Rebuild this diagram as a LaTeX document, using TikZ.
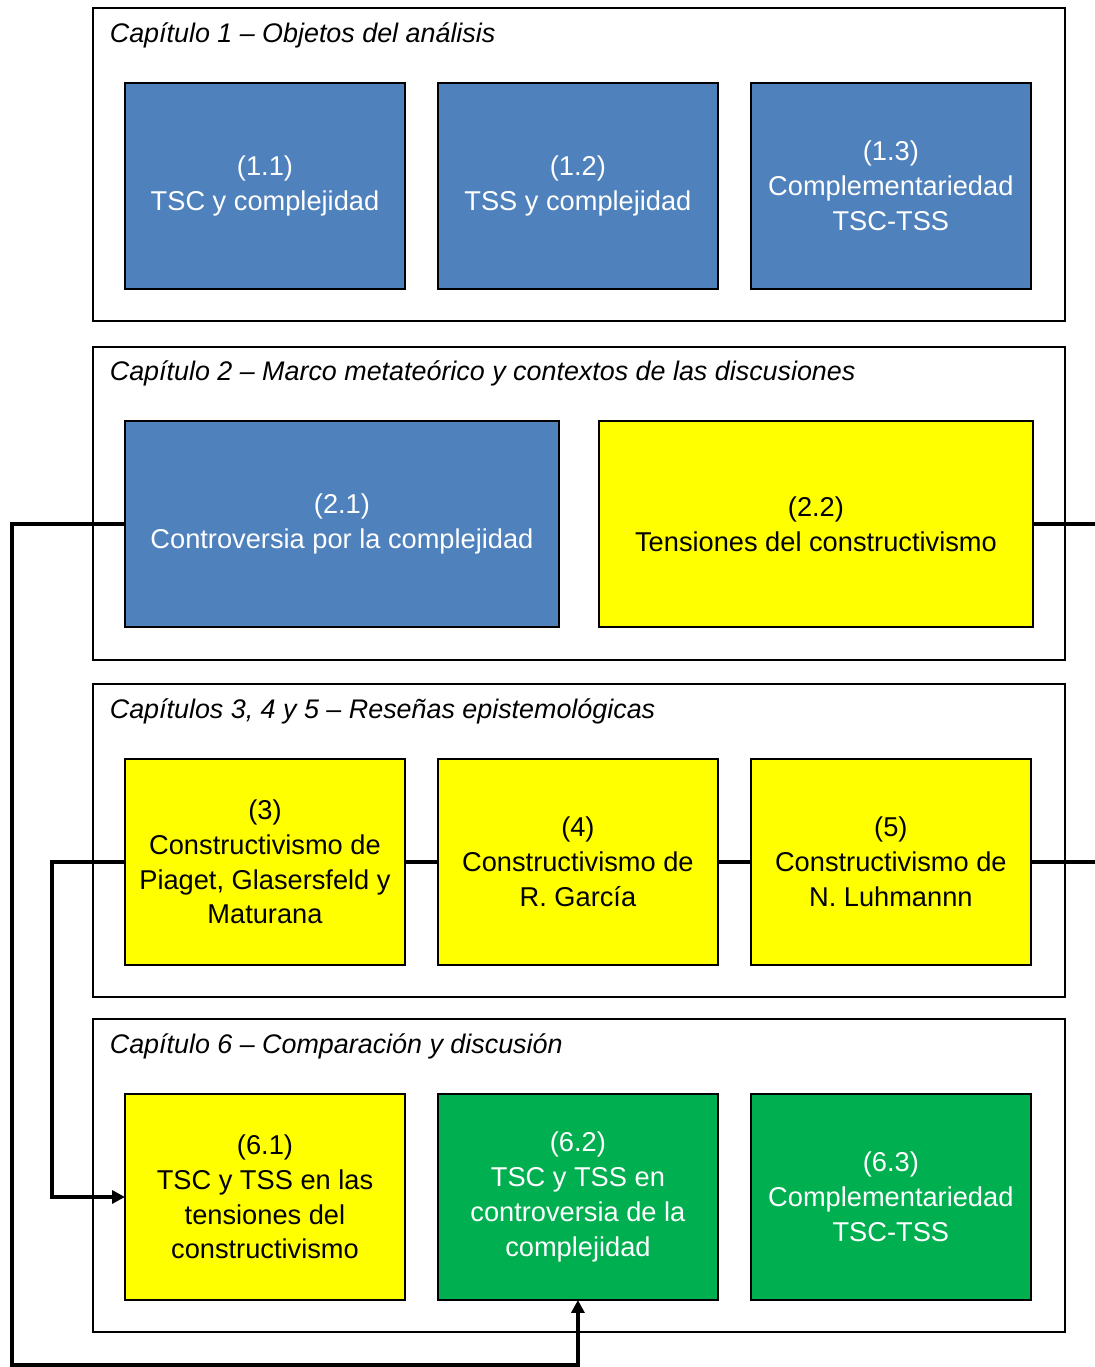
\documentclass[tikz,border=0pt]{standalone}
\usepackage{fontspec}
\setmainfont{Liberation Sans}
\usepackage{tikz}
\usetikzlibrary{arrows.meta,positioning}
\definecolor{boxblue}{HTML}{4F81BD}
\definecolor{boxyellow}{HTML}{FFFF00}
\definecolor{boxgreen}{HTML}{00B050}

\begin{document}
\begin{tikzpicture}[
  x=0.02cm, y=-0.02cm,
  node distance=6.6mm,
  every node/.style={align=center,outer sep=0pt,
    font=\fontsize{15.5}{19.8}\selectfont},
  chapter/.style={draw,line width=0.8pt,minimum width=19.44cm,
    minimum height=6.26cm,anchor=north west,inner sep=0pt},
  chaptitle/.style={anchor=west,font=\fontsize{15.3}{19.8}\selectfont\itshape},
  topic/.style={draw,line width=1.1pt,minimum width=5.6cm,minimum height=4.12cm,
    inner sep=2pt,anchor=north west},
  wide/.style={topic,minimum width=8.68cm},
  blue/.style={fill=boxblue,text=white},
  yellow/.style={fill=boxyellow},
  green/.style={fill=boxgreen,text=white},
  link/.style={line width=2.2pt},
  every path/.style={-{Triangle[length=2.6mm,width=2.6mm]}}
]
\useasboundingbox (0,0) rectangle (1095,1367);
% chapter frames
\node[chapter] (c1) at (93,8) {};
\node[chapter] (c2) at (93,347) {};
\node[chapter] (c3) at (93,684) {};
\node[chapter] (c6) at (93,1019) {};
\node[chaptitle] (t1) at (104,35) {Capítulo 1 – Objetos del análisis};
\node[chaptitle] (t2) at (104,373) {Capítulo 2 – Marco metateórico y contextos de las discusiones};
\node[chaptitle] (t3) at (104,711) {Capítulos 3, 4 y 5 – Reseñas epistemológicas};
\node[chaptitle] (t6) at (104,1046) {Capítulo 6 – Comparación y discusión};
% chapter 1
\node[topic,blue] (b11) at (125,83) {(1.1)\\TSC y complejidad};
\node[topic,blue,right=of b11.north east,anchor=north west] (b12) {(1.2)\\TSS y complejidad};
\node[topic,blue,right=of b12.north east,anchor=north west] (b13) {(1.3)\\Complementariedad\\TSC-TSS};
% chapter 2
\node[wide,blue] (b21) at (125,421) {(2.1)\\Controversia por la complejidad};
\node[wide,yellow] (b22) at (599,421) {(2.2)\\Tensiones del constructivismo};
% chapters 3, 4, 5
\node[topic,yellow] (b3) at (125,759) {(3)\\Constructivismo de\\Piaget, Glasersfeld y\\Maturana};
\node[topic,yellow,right=of b3.north east,anchor=north west] (b4) {(4)\\Constructivismo de\\R. García};
\node[topic,yellow,right=of b4.north east,anchor=north west] (b5) {(5)\\Constructivismo de\\N. Luhmannn};
% chapter 6
\node[topic,yellow] (b61) at (125,1094) {(6.1)\\TSC y TSS en las\\tensiones del\\constructivismo};
\node[topic,green,right=of b61.north east,anchor=north west] (b62) {(6.2)\\TSC y TSS en\\controversia de la\\complejidad};
\node[topic,green,right=of b62.north east,anchor=north west] (b63) {(6.3)\\Complementariedad\\TSC-TSS};
% connectors
\coordinate (bend21) at (12,1365);
\coordinate (bend3) at (52,0);
\coordinate (edge) at (1095,0);
\draw[link] (b21.west) -| (bend21) -| (b62.south);
\draw[link] (b3.west) -- (b3.west -| bend3) |- (b61.west);
\draw[link,-] (b3) -- (b4);
\draw[link,-] (b4) -- (b5);
\draw[link,-] (b22.east) -- (b22.east -| edge);
\draw[link,-] (b5.east) -- (b5.east -| edge);
\end{tikzpicture}
\end{document}
